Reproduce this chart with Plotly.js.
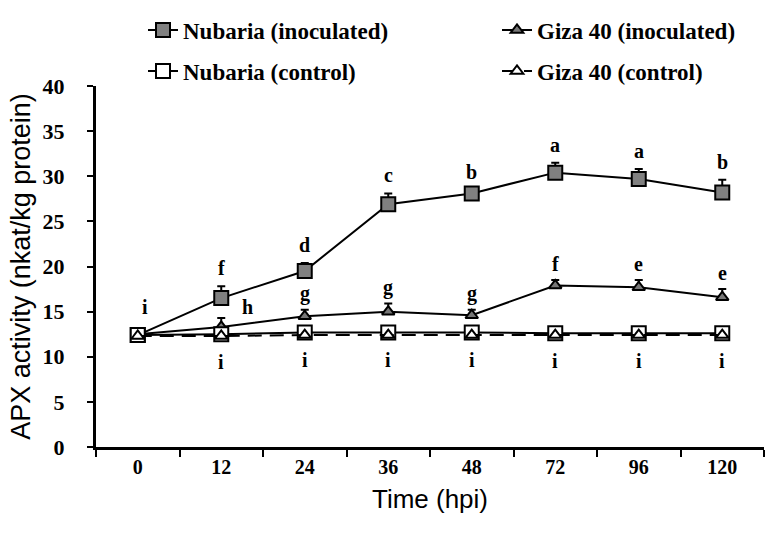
<!DOCTYPE html>
<html>
<head>
<meta charset="utf-8">
<script src="https://cdn.plot.ly/plotly-3.0.1.min.js"></script>
<style>html,body{margin:0;padding:0;background:#fff;}#chart{width:774px;height:534px;}</style>
</head>
<body>
<div id="chart"></div>
<script>
const timeCategories = ['0', '12', '24', '36', '48', '72', '96', '120'];

const nubariaInoculated = [12.4, 16.5, 19.5, 26.9, 28.1, 30.4, 29.7, 28.2];
const nubariaInoculatedErr = [0, 1.3, 0.9, 1.2, 0.4, 1.1, 1.1, 1.4];
const gizaInoculated = [12.5, 13.3, 14.5, 15.0, 14.6, 17.9, 17.7, 16.6];
const gizaInoculatedErr = [0, 1.0, 0.7, 0.9, 0.6, 0.6, 0.8, 0.9];
const nubariaControl = [12.4, 12.5, 12.7, 12.7, 12.7, 12.6, 12.6, 12.6];
const gizaControl = [12.3, 12.3, 12.4, 12.4, 12.4, 12.4, 12.4, 12.4];

const nubariaLetters = ['i', 'f', 'd', 'c', 'b', 'a', 'a', 'b'];
const gizaLetters = ['', 'h', 'g', 'g', 'g', 'f', 'e', 'e'];
const controlLetters = ['', 'i', 'i', 'i', 'i', 'i', 'i', 'i'];

const serif = '"Liberation Serif", "Times New Roman", serif';
const sans = '"Liberation Sans", Arial, sans-serif';
const zeros = timeCategories.map(() => 0);

const traces = [
  {
    name: 'Nubaria (inoculated)', x: timeCategories, y: nubariaInoculated,
    type: 'scatter', mode: 'lines+markers', legend: 'legend',
    line: {color: '#000', width: 2},
    marker: {symbol: 'square', size: 14, color: '#808080', line: {color: '#000', width: 2}},
    error_y: {type: 'data', symmetric: false, array: nubariaInoculatedErr, arrayminus: zeros, color: '#000', thickness: 2, width: 4}
  },
  {
    name: 'Giza 40 (inoculated)', x: timeCategories, y: gizaInoculated,
    type: 'scatter', mode: 'lines+markers', legend: 'legend2',
    line: {color: '#000', width: 2},
    marker: {symbol: 'triangle-up', size: 11, color: '#777', line: {color: '#000', width: 2}},
    error_y: {type: 'data', symmetric: false, array: gizaInoculatedErr, arrayminus: zeros, color: '#000', thickness: 2, width: 4}
  },
  {
    name: 'Nubaria (control)', x: timeCategories, y: nubariaControl,
    type: 'scatter', mode: 'lines+markers', legend: 'legend3',
    line: {color: '#000', width: 2},
    marker: {symbol: 'square', size: 14, color: '#fff', line: {color: '#000', width: 2}}
  },
  {
    name: 'Giza 40 (control)', x: timeCategories, y: gizaControl,
    type: 'scatter', mode: 'lines+markers', legend: 'legend4',
    line: {color: '#000', width: 2, dash: '14px,8px'},
    marker: {symbol: 'triangle-up', size: 11, color: '#fff', line: {color: '#000', width: 2}}
  }
];

const letterFont = {family: serif, size: 20, color: '#000', weight: 'bold'};
const annotations = [];
timeCategories.forEach((t, i) => {
  if (nubariaLetters[i]) {
    annotations.push({
      x: i, y: nubariaInoculated[i] + nubariaInoculatedErr[i], xref: 'x', yref: 'y',
      text: '<b>' + nubariaLetters[i] + '</b>', showarrow: false, font: letterFont,
      yanchor: 'middle', yshift: i === 0 ? 28 : 18, xshift: i === 0 ? 7 : 0
    });
  }
  if (gizaLetters[i]) {
    const side = i === 1;
    annotations.push({
      x: i, y: gizaInoculated[i] + gizaInoculatedErr[i], xref: 'x', yref: 'y',
      text: '<b>' + gizaLetters[i] + '</b>', showarrow: false, font: letterFont,
      yanchor: 'middle', yshift: side ? 11 : 16, xshift: side ? 26 : 0
    });
  }
  if (controlLetters[i]) {
    annotations.push({
      x: i, y: nubariaControl[i], xref: 'x', yref: 'y',
      text: '<b>' + controlLetters[i] + '</b>', showarrow: false, font: letterFont,
      yanchor: 'middle', yshift: -28
    });
  }
});

const legendFont = {family: serif, size: 23, color: '#000', weight: 'bold'};
function makeLegend(textLeftPx, centerYPx) {
  return {
    orientation: 'h', xref: 'container', yref: 'container',
    x: (textLeftPx - 40) / 774, y: 1 - centerYPx / 534, xanchor: 'left', yanchor: 'middle',
    font: legendFont, bgcolor: 'rgba(0,0,0,0)', borderwidth: 0
  };
}

const layout = {
  width: 774, height: 534,
  margin: {l: 96, r: 10, t: 86, b: 87, autoexpand: false},
  paper_bgcolor: '#fff', plot_bgcolor: '#fff',
  showlegend: true,
  legend: makeLegend(183, 30),
  legend2: makeLegend(537, 30),
  legend3: makeLegend(183, 71),
  legend4: makeLegend(537, 71),
  xaxis: {
    type: 'category', range: [-0.5, 7.5], tickson: 'boundaries',
    ticks: 'outside', ticklen: 7, tickwidth: 2, tickcolor: '#000',
    showline: true, linewidth: 3, linecolor: '#000', showgrid: false, zeroline: false,
    tickfont: {family: serif, size: 20, color: '#000', weight: 'bold'},
    title: {text: 'Time (hpi)', font: {family: sans, size: 26, color: '#000'}, standoff: 13}
  },
  yaxis: {
    range: [0, 40], dtick: 5, tick0: 0,
    ticks: 'outside', ticklen: 6, tickwidth: 2, tickcolor: '#000',
    showline: true, linewidth: 3, linecolor: '#000', showgrid: false, zeroline: false,
    tickfont: {family: serif, size: 22, color: '#000', weight: 'bold'},
    ticklabelstandoff: 18,
    title: {text: 'APX activity (nkat/kg protein)', font: {family: sans, size: 27, color: '#000'}, standoff: 5}
  },
  annotations: annotations
};

Plotly.newPlot('chart', traces, layout, {displayModeBar: false, staticPlot: true});
</script>
</body>
</html>
